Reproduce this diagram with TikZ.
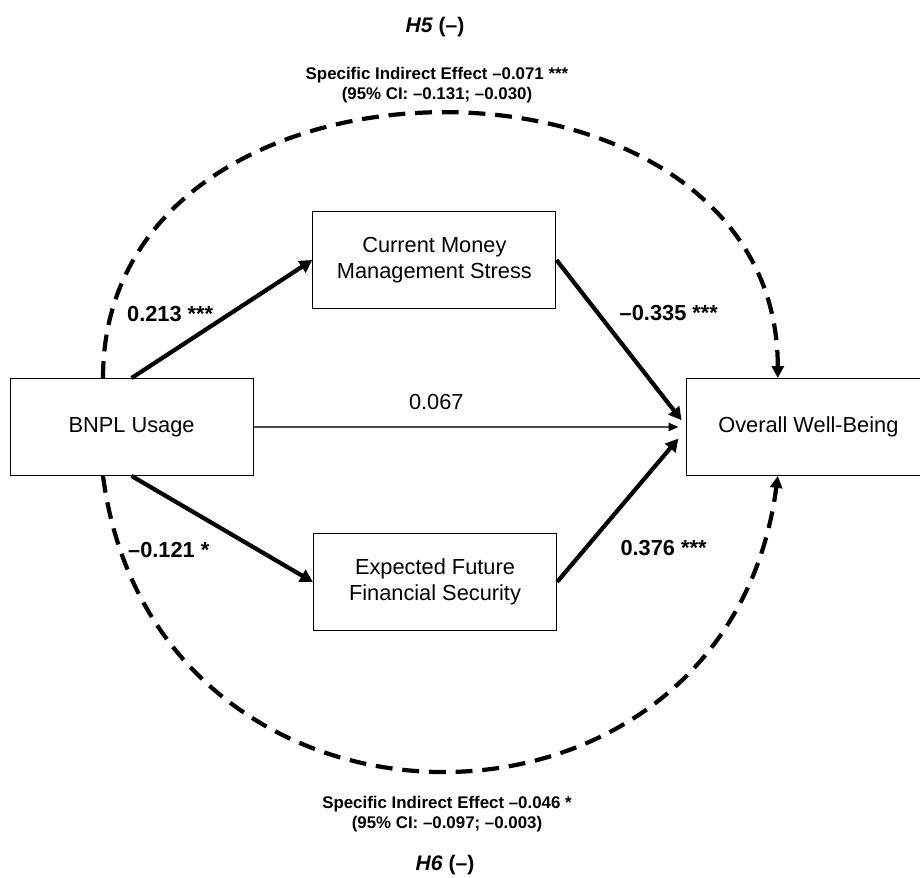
\documentclass[tikz,border=0pt]{standalone}
\usepackage{fontspec}
\setmainfont{Liberation Sans}
\usetikzlibrary{arrows.meta,calc}

\begin{document}
\begin{tikzpicture}[
  var/.style={rectangle, draw, line width=0.8pt, minimum width=6.075cm, minimum height=2.42cm, align=center, font=\fontsize{15.5}{18.5}\selectfont},
  coef/.style={font=\fontsize{15.5}{18.5}\selectfont\bfseries},
  indir/.style={font=\fontsize{12}{14.2}\selectfont\bfseries, align=center},
  hyp/.style={font=\fontsize{15}{17}\selectfont\bfseries},
  apath/.style={line width=3pt, -{Triangle[length=9pt,width=9.5pt]}},
  ipath/.style={line width=3pt, dash pattern=on 12pt off 7pt, -{Triangle[length=8.5pt,width=8.5pt]}}
]
\useasboundingbox (0,0) rectangle (23,-21.95);
% mediation model
\node[var] (bnpl) at (3.29,-10.675) {BNPL Usage};
\node[var] (cmm) at (10.86,-6.5) {Current Money\\Management Stress};
\node[var] (efs) at (10.875,-14.55) {Expected Future\\Financial Security};
\node[var] (owb) at (20.21,-10.675) {Overall Well-Being};

\coordinate (o1) at ($(owb.west)+(-0.12,0.17)$);
\coordinate (o2) at ($(owb.west)+(-0.2,0)$);
\coordinate (o3) at ($(owb.west)+(-0.2,-0.29)$);

\draw (bnpl.north) edge[apath] node[coef, pos=0.54, anchor=east, xshift=-0.23cm] {0.213 ***} (cmm.west);
\draw (cmm.east) edge[apath] node[coef, pos=0.33, anchor=west, xshift=0.38cm] {--0.335 ***} (o1);
\draw (bnpl.south) edge[apath] node[coef, pos=0.70, anchor=east, xshift=-1.06cm] {--0.121 *} (efs.west);
\draw (efs.east) edge[apath] node[coef, pos=0.24, anchor=west, xshift=0.69cm] {0.376 ***} (o3);
\draw (bnpl.east) edge[line width=0.9pt, draw=black!70, -{Triangle[length=7pt,width=6pt,color=black]}] node[font=\fontsize{15.5}{18.5}\selectfont, pos=0.43, yshift=0.625cm] {0.067} (o2);

% indirect effects
\coordinate (h5from) at ($(bnpl.north)+(-0.715,0)$);
\coordinate (h5to) at ($(owb.north)+(-0.765,0)$);
\coordinate (h6from) at ($(bnpl.south)+(-0.715,0)$);
\coordinate (h6to) at ($(owb.south)+(-0.765,0)$);

\draw[ipath] (h5from) to[out=90, in=90, looseness=1.34] (h5to);
\draw[ipath] (h6from) to[out=-82.5, in=-97.5, looseness=1.506] (h6to);

\node[indir] (ie5) at (10.925,-2.125) {Specific Indirect Effect --0.071 ***\\(95\% CI: --0.131; --0.030)};
\node[hyp] (h5) at (10.875,-0.675) {\textit{H5} (--)};
\node[indir] (ie6) at (11.175,-20.35) {Specific Indirect Effect --0.046 *\\(95\% CI: --0.097; --0.003)};
\node[hyp] (h6) at (11.125,-21.625) {\textit{H6} (--)};

\end{tikzpicture}
\end{document}
